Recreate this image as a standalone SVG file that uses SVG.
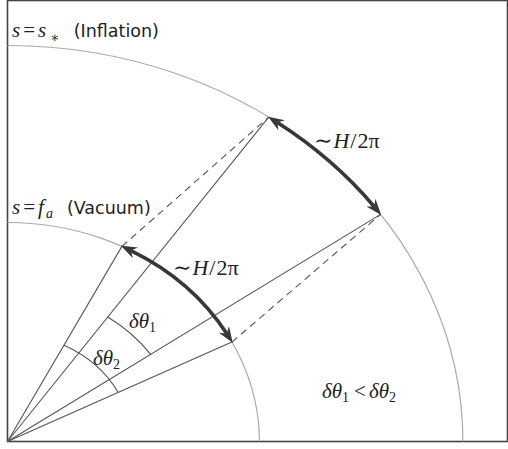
<svg xmlns="http://www.w3.org/2000/svg" width="508" height="449" viewBox="0 0 508 449">
<style>
.frame{fill:none;stroke:#444;stroke-width:1.6}
.arc{fill:none;stroke:#aaa;stroke-width:1.2}
.ray{fill:none;stroke:#555;stroke-width:1.1}
.dash{fill:none;stroke:#555;stroke-width:1.1;stroke-dasharray:7 5}
.ang{fill:none;stroke:#555;stroke-width:1.1}
.fl{fill:none;stroke:#383838;stroke-width:3.6;stroke-linecap:butt}
.lab{font-family:"DejaVu Sans",sans-serif;font-size:17.5px;fill:#222}
.m{font-family:"Liberation Serif","DejaVu Serif",serif;font-size:21px;fill:#222}
.h{font-size:22px}
.i{font-style:italic}
.sub{font-size:14px}
</style>
<defs>
<marker id="ah" markerUnits="userSpaceOnUse" markerWidth="22" markerHeight="16" viewBox="0 -8 18 16" refX="5" refY="0" orient="auto-start-reverse" overflow="visible">
<path d="M0,-6 L16,0 L0,6 L5,0 z" fill="#383838"/>
</marker>
</defs>
<rect class="frame" x="7.5" y="0.5" width="500" height="441"/>
<g id="circles">
<path class="arc" d="M7.5 45.5 A455.4 396 0 0 1 462.9 441.5"/>
<path class="arc" d="M7.5 222.5 A251.9 219 0 0 1 259.4 441.5"/>
</g>
<g id="connectors">
<line class="ray" x1="7.5" y1="441.5" x2="268.7" y2="117.1"/>
<line class="ray" x1="7.5" y1="441.5" x2="380.6" y2="214.4"/>
<line class="ray" x1="7.5" y1="441.5" x2="121.9" y2="246.4"/>
<line class="ray" x1="7.5" y1="441.5" x2="231.9" y2="342.1"/>
<line class="dash" x1="121.9" y1="246.4" x2="268.7" y2="117.1"/>
<line class="dash" x1="231.9" y1="342.1" x2="380.6" y2="214.4"/>
<path class="ang" d="M107.8 317.0 A174.8 152 0 0 1 150.7 354.3"/>
<path class="ang" d="M63.9 345.3 A124.2 108 0 0 1 118.2 392.5"/>
<path class="fl" d="M277.4 122.6 A455.4 396 0 0 1 374.1 206.5" marker-start="url(#ah)" marker-end="url(#ah)"/>
<path class="fl" d="M130.9 250.6 A251.9 219 0 0 1 226.7 333.6" marker-start="url(#ah)" marker-end="url(#ah)"/>
</g>
<g id="label-inflation">
<text x="12" y="37"><tspan class="m i">s</tspan><tspan class="m" dx="3">=</tspan><tspan class="m i" dx="3">s</tspan><tspan class="m sub" dx="4" dy="5">∗</tspan><tspan class="lab" dx="14" dy="-5">(Inflation)</tspan></text>
</g>
<g id="label-vacuum">
<text x="12" y="214"><tspan class="m i">s</tspan><tspan class="m" dx="3">=</tspan><tspan class="m i" dx="3">f</tspan><tspan class="m i sub" dx="2" dy="4">a</tspan><tspan class="lab" dx="14" dy="-4">(Vacuum)</tspan></text>
</g>
<g id="label-outer-h">
<text class="m h" x="314" y="148">∼<tspan class="i" dx="1">H</tspan><tspan dx="1">/</tspan><tspan dx="1">2π</tspan></text>
</g>
<g id="label-inner-h">
<text class="m h" x="173" y="275">∼<tspan class="i" dx="1">H</tspan><tspan dx="1">/</tspan><tspan dx="1">2π</tspan></text>
</g>
<g id="label-dt1">
<text class="m" x="129" y="328"><tspan class="i">δθ</tspan><tspan class="sub" dy="4">1</tspan></text>
</g>
<g id="label-dt2">
<text class="m" x="93" y="365"><tspan class="i">δθ</tspan><tspan class="sub" dy="4">2</tspan></text>
</g>
<g id="label-ineq">
<text class="m" x="322" y="398"><tspan class="i">δθ</tspan><tspan class="sub" dy="4">1</tspan><tspan dx="5" dy="-4">&lt;</tspan><tspan class="i" dx="3">δθ</tspan><tspan class="sub" dy="4">2</tspan></text>
</g>
</svg>
